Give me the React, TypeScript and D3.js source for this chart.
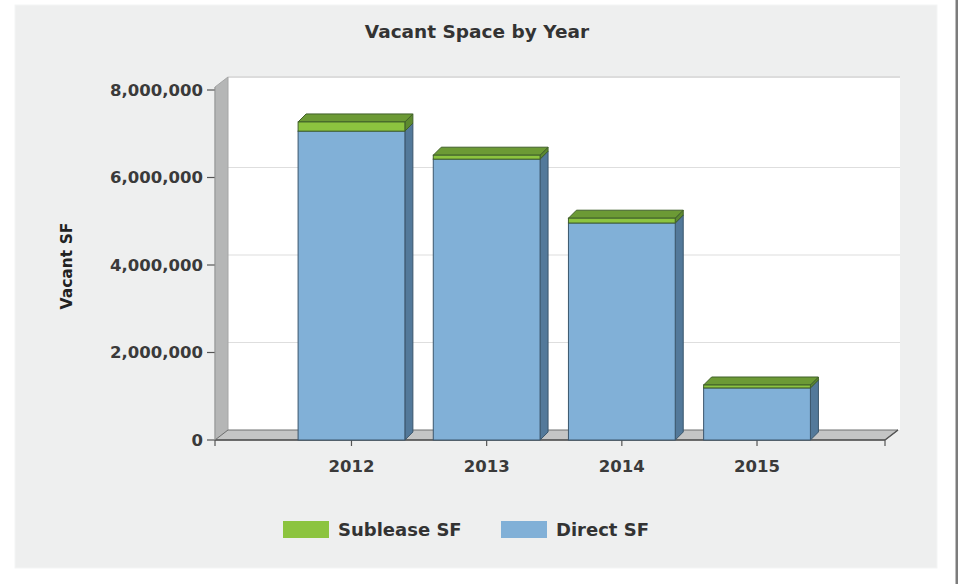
import React from "react";
import * as d3 from "d3";

const years = ["2012", "2013", "2014", "2015"];
const directSF = [7060000, 6420000, 4960000, 1190000];
const subleaseSF = [210000, 90000, 110000, 67000];
const yTicks = [0, 2000000, 4000000, 6000000, 8000000];
const seriesNames = ["Sublease SF", "Direct SF"];

const W = 962;
const H = 584;
const FONT = "'DejaVu Sans', Verdana, sans-serif";

// 3D offsets
const WX = 13; // wall depth dx
const WY = -10; // wall depth dy
const BX = 8; // bar depth dx
const BY = -8; // bar depth dy

const COLORS = {
  directFront: "#81b0d7",
  directSide: "#53799a",
  directTop: "#6f9cc2",
  directStroke: "#3b566c",
  subFront: "#8cc43f",
  subSide: "#5d8a2f",
  subTop: "#6c9a35",
  subStroke: "#41602a",
};

export default function App() {
  const y = d3.scaleLinear().domain([0, 8000000]).range([440, 90]);
  const x = d3
    .scaleBand<string>()
    .domain(years)
    .range([230.5, 878])
    .paddingInner(0.21)
    .paddingOuter(0.5);

  const fmt = d3.format(",");
  const axL = 215;
  const axR = 885;
  const y0 = y(0);
  const wallTopFront = y(8000000) - 3;

  const poly = (pts: [number, number][]) => pts.map((p) => p.join(",")).join(" ");

  const box = (
    x0: number,
    x1: number,
    yb: number,
    yt: number,
    front: string,
    side: string,
    top: string,
    stroke: string,
    key: string
  ) => (
    <g key={key}>
      <polygon
        points={poly([
          [x1, yb],
          [x1 + BX, yb + BY],
          [x1 + BX, yt + BY],
          [x1, yt],
        ])}
        fill={side}
        stroke={stroke}
        strokeWidth={1}
        strokeLinejoin="round"
      />
      <polygon
        points={poly([
          [x0, yt],
          [x1, yt],
          [x1 + BX, yt + BY],
          [x0 + BX, yt + BY],
        ])}
        fill={top}
        stroke={stroke}
        strokeWidth={1}
        strokeLinejoin="round"
      />
      <rect
        x={x0}
        y={yt}
        width={x1 - x0}
        height={yb - yt}
        fill={front}
        stroke={stroke}
        strokeWidth={1}
      />
    </g>
  );

  return (
    <svg
      width={W}
      height={H}
      style={{ position: "absolute", left: 0, top: 0, background: "#ffffff" }}
      fontFamily={FONT}
    >
      {/* panel */}
      <rect x={15} y={5} width={922} height={563} fill="#eeefef" stroke="#f4f5f5" />
      <rect x={955.5} y={0} width={2.5} height={H} fill="#7c7c7c" />

      {/* title */}
      <text x={477} y={38} textAnchor="middle" fontSize={18.5} fontWeight="bold" fill="#333">
        Vacant Space by Year
      </text>

      {/* back wall */}
      <rect
        x={axL + WX}
        y={wallTopFront + WY}
        width={axR + WX - (axL + WX) + 2}
        height={y0 + WY - (wallTopFront + WY)}
        fill="#ffffff"
      />
      <line
        x1={axL + WX}
        x2={axR + WX + 2}
        y1={wallTopFront + WY}
        y2={wallTopFront + WY}
        stroke="#dcdcdc"
        strokeWidth={2}
      />
      {yTicks
        .filter((t) => t > 0 && t < 8000000)
        .map((t) => (
          <line
            key={"g" + t}
            x1={axL + WX}
            x2={axR + WX + 2}
            y1={y(t) + WY}
            y2={y(t) + WY}
            stroke="#dedede"
            strokeWidth={1.2}
          />
        ))}

      {/* left wall */}
      <polygon
        points={poly([
          [axL, y0],
          [axL, wallTopFront],
          [axL + WX, wallTopFront + WY],
          [axL + WX, y0 + WY],
        ])}
        fill="#b5b6b6"
        stroke="#a5a6a6"
        strokeWidth={1}
      />

      {/* floor */}
      <polygon
        points={poly([
          [axL, y0],
          [axR, y0],
          [axR + WX, y0 + WY],
          [axL + WX, y0 + WY],
        ])}
        fill="#c4c5c5"
        stroke="#6f7070"
        strokeWidth={1}
      />
      <line x1={axL} x2={axR} y1={y0} y2={y0} stroke="#555" strokeWidth={1.5} />
      <line x1={axR} x2={axR + WX} y1={y0} y2={y0 + WY} stroke="#555" strokeWidth={1.5} />

      {/* y axis ticks + labels */}
      {yTicks.map((t) => (
        <g key={"yt" + t}>
          <line x1={axL - 8} x2={axL} y1={y(t)} y2={y(t)} stroke="#555" strokeWidth={1.2} />
          <text
            x={axL - 12}
            y={y(t)}
            dy="0.36em"
            textAnchor="end"
            fontSize={16.5}
            fontWeight="bold"
            fill="#3a3a3a"
          >
            {fmt(t)}
          </text>
        </g>
      ))}
      <line x1={axL} x2={axL} y1={wallTopFront} y2={y0} stroke="#9a9b9b" strokeWidth={1} />

      {/* y axis title */}
      <text
        transform={`translate(72,266) rotate(-90)`}
        textAnchor="middle"
        fontSize={15.5}
        fontWeight="bold"
        fill="#222"
      >
        Vacant SF
      </text>

      {/* x ticks */}
      {[axL, axR].map((v) => (
        <line key={"xe" + v} x1={v} x2={v} y1={y0} y2={y0 + 6} stroke="#555" strokeWidth={1.2} />
      ))}
      {years.map((yr) => {
        const cx = (x(yr) as number) + x.bandwidth() / 2;
        return (
          <g key={"xt" + yr}>
            <line x1={cx} x2={cx} y1={y0} y2={y0 + 6} stroke="#555" strokeWidth={1.2} />
            <text x={cx} y={y0 + 32} textAnchor="middle" fontSize={16.5} fontWeight="bold" fill="#3a3a3a">
              {yr}
            </text>
          </g>
        );
      })}

      {/* bars */}
      {years.map((yr, i) => {
        const x0 = x(yr) as number;
        const x1 = x0 + x.bandwidth();
        const d = directSF[i];
        const s = subleaseSF[i];
        return (
          <g key={"bar" + yr}>
            {box(
              x0,
              x1,
              y(0),
              y(d),
              COLORS.directFront,
              COLORS.directSide,
              COLORS.directTop,
              COLORS.directStroke,
              "d"
            )}
            {box(
              x0,
              x1,
              y(d),
              y(d + s),
              COLORS.subFront,
              COLORS.subSide,
              COLORS.subTop,
              COLORS.subStroke,
              "s"
            )}
          </g>
        );
      })}

      {/* legend */}
      {seriesNames.map((name, i) => {
        const lx = i === 0 ? 283 : 501;
        const fill = i === 0 ? COLORS.subFront : COLORS.directFront;
        return (
          <g key={"lg" + name}>
            <rect x={lx} y={521} width={46} height={17} fill={fill} />
            <text x={lx + 55} y={536} fontSize={18} fontWeight="bold" fill="#333">
              {name}
            </text>
          </g>
        );
      })}
    </svg>
  );
}
